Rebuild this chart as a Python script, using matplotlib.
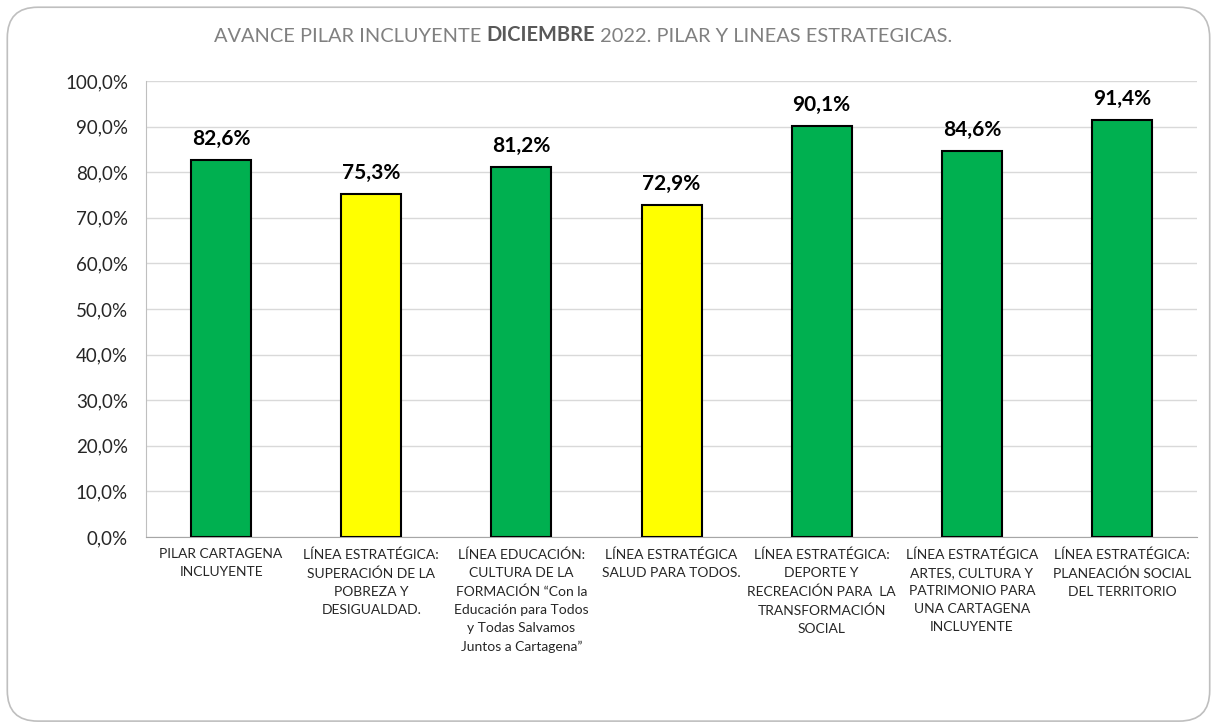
import matplotlib.pyplot as plt
from matplotlib.patches import FancyBboxPatch
from matplotlib.ticker import FuncFormatter

categories = [
    "PILAR CARTAGENA\nINCLUYENTE",
    "LÍNEA ESTRATÉGICA:\nSUPERACIÓN DE LA\nPOBREZA Y\nDESIGUALDAD.",
    "LÍNEA EDUCACIÓN:\nCULTURA DE LA\nFORMACIÓN \u201cCon la\nEducación para Todos\ny Todas Salvamos\nJuntos a Cartagena\u201d",
    "LÍNEA ESTRATÉGICA\nSALUD PARA TODOS.",
    "LÍNEA ESTRATÉGICA:\nDEPORTE Y\nRECREACIÓN PARA  LA\nTRANSFORMACIÓN\nSOCIAL",
    "LÍNEA ESTRATÉGICA\nARTES, CULTURA Y\nPATRIMONIO PARA\nUNA CARTAGENA\nINCLUYENTE",
    "LÍNEA ESTRATÉGICA:\nPLANEACIÓN SOCIAL\nDEL TERRITORIO",
]
values = [82.6, 75.3, 81.2, 72.9, 90.1, 84.6, 91.4]
colors = ["#00B050", "#FFFF00", "#00B050", "#FFFF00", "#00B050", "#00B050", "#00B050"]

plt.rcParams['font.family'] = ['Lato', 'DejaVu Sans']

fig = plt.figure(figsize=(12.17, 7.24), dpi=100)
ax = fig.add_axes([0.12, 0.2583, 0.8636, 0.6297])

# rounded border around the chart area
fig.patches.append(FancyBboxPatch((0.006, 0.004), 0.988, 0.986, boxstyle="round,pad=0,rounding_size=0.025",
                                  transform=fig.transFigure, facecolor="none", edgecolor="#BFBFBF",
                                  linewidth=1.2, mutation_aspect=1217 / 724))

x = range(len(values))
ax.bar(x, values, width=0.4, color=colors, edgecolor="black", linewidth=1.5, zorder=3)

for i, v in enumerate(values):
    ax.annotate("{:.1f}%".format(v).replace(".", ","), (i, v), xytext=(0, 8),
                textcoords="offset points", ha="center", va="bottom",
                fontsize=15, fontweight="bold", color="black")

ax.set_ylim(0, 100)
ax.set_xlim(-0.5, len(values) - 0.5)
ax.set_yticks(range(0, 101, 10))
ax.yaxis.set_major_formatter(FuncFormatter(lambda v, p: "{:.1f}%".format(v).replace(".", ",")))
ax.set_xticks(list(x))
ax.set_xticklabels(categories, fontsize=10, color="#262626", linespacing=1.62, va="top")
ax.tick_params(axis="y", labelsize=13.5, colors="#262626", length=0, pad=13)
ax.tick_params(axis="x", length=0, pad=8)
ax.grid(axis="y", color="#D9D9D9", linewidth=1, zorder=0)
for s in ["top", "right"]:
    ax.spines[s].set_visible(False)
ax.spines["left"].set_color("#BFBFBF")
ax.spines["bottom"].set_color("#A6A6A6")

# title with bold month
t1 = fig.text(0.176, 0.95, "AVANCE PILAR INCLUYENTE ", fontsize=14.4, color="#808080", va="center")
t2 = ax.annotate("DICIEMBRE", xy=(1, 0), xycoords=t1, va="bottom", fontsize=14.4,
                 fontweight="bold", color="#595959")
t3 = ax.annotate(" 2022. PILAR Y LINEAS ESTRATEGICAS.", xy=(1, 0), xycoords=t2, va="bottom",
                 fontsize=14.4, color="#808080")

fig.savefig("out.png", dpi=100)
